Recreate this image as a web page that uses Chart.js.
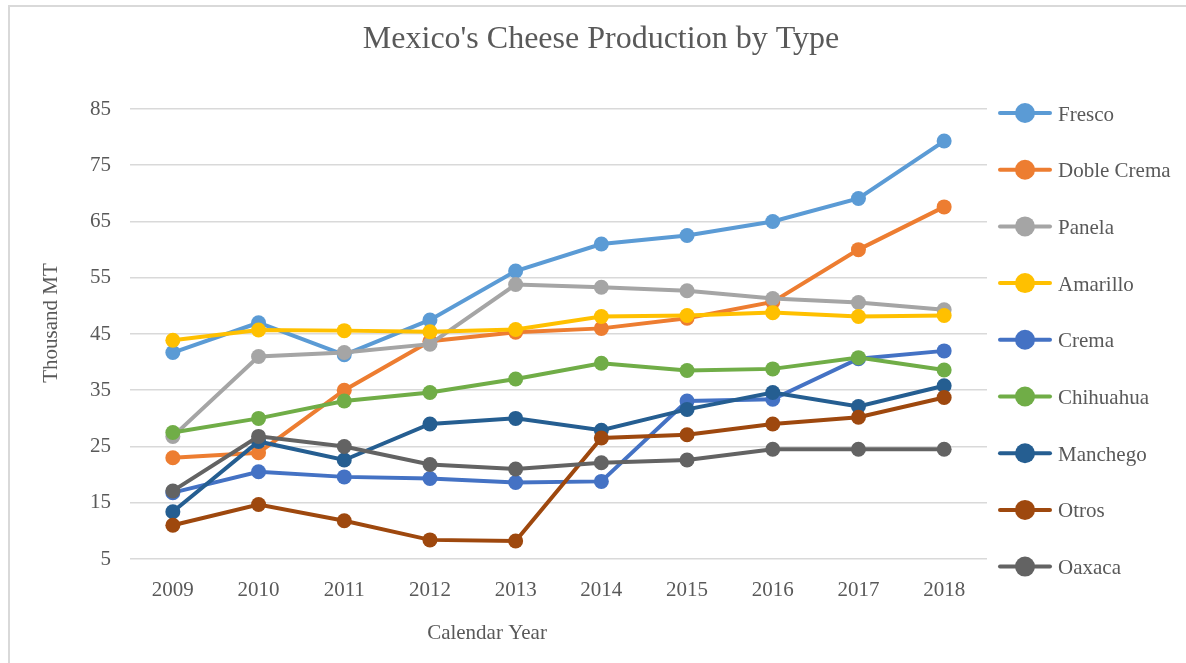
<!DOCTYPE html>
<html>
<head>
<meta charset="utf-8">
<script src="https://cdn.jsdelivr.net/npm/chart.js@4/dist/chart.umd.min.js"></script>
<style>
  html, body { margin: 0; padding: 0; background: #fff; }
  #chart { display: block; }
</style>
</head>
<body>
<canvas id="chart" width="1186" height="663"></canvas>
<script>
// data (thousand MT)
const years = ['2009', '2010', '2011', '2012', '2013', '2014', '2015', '2016', '2017', '2018'];
const seriesNames = ['Fresco', 'Doble Crema', 'Panela', 'Amarillo', 'Crema', 'Chihuahua', 'Manchego', 'Otros', 'Oaxaca'];
const fresco     = [41.7, 47.0, 41.3, 47.5, 56.2, 61.0, 62.5, 65.0, 69.1, 79.3];
const dobleCrema = [23.0, 23.9, 35.0, 43.7, 45.3, 46.0, 47.8, 50.7, 60.0, 67.6];
const panela     = [26.8, 41.0, 41.7, 43.2, 53.8, 53.3, 52.7, 51.3, 50.6, 49.3];
const amarillo   = [43.9, 45.7, 45.6, 45.4, 45.8, 48.1, 48.3, 48.8, 48.1, 48.3];
const crema      = [16.8, 20.5, 19.6, 19.3, 18.6, 18.8, 33.1, 33.4, 40.6, 42.0];
const chihuahua  = [27.5, 30.0, 33.1, 34.6, 37.0, 39.8, 38.5, 38.8, 40.8, 38.6];
const manchego   = [13.4, 25.9, 22.6, 29.0, 30.0, 27.9, 31.6, 34.6, 32.1, 35.8];
const otros      = [11.0, 14.7, 11.8, 8.4, 8.2, 26.5, 27.1, 29.0, 30.2, 33.7];
const oaxaca     = [17.1, 26.8, 25.0, 21.8, 21.0, 22.1, 22.6, 24.5, 24.5, 24.5];
const yTicks = [5, 15, 25, 35, 45, 55, 65, 75, 85];

const seriesValues = [fresco, dobleCrema, panela, amarillo, crema, chihuahua, manchego, otros, oaxaca];
const colors = ['#5B9BD5', '#ED7D31', '#A5A5A5', '#FFC000', '#4472C4', '#70AD47', '#255E91', '#9E480E', '#636363'];

const textColor = '#595959';
const fontFamily = "'Liberation Serif', 'Times New Roman', serif";

// title, axis titles, legend and frame drawn here so they sit where Excel put them
const decorations = {
    id: 'decorations',
    beforeDraw(chart) {
        const ctx = chart.ctx;
        ctx.save();
        ctx.fillStyle = '#fff';
        ctx.fillRect(0, 0, chart.width, chart.height);
        ctx.fillStyle = '#d9d9d9';
        ctx.fillRect(8, 5, 2, chart.height);
        ctx.fillRect(8, 5, chart.width, 2);
        ctx.restore();
    },
    afterDraw(chart) {
        const ctx = chart.ctx;
        ctx.save();
        ctx.fillStyle = textColor;
        ctx.textAlign = 'center';
        ctx.textBaseline = 'alphabetic';

        ctx.font = '32px ' + fontFamily;
        ctx.fillText("Mexico's Cheese Production by Type", 601, 48);

        ctx.font = '21px ' + fontFamily;
        ctx.fillText('Calendar Year', 487, 639);

        ctx.save();
        ctx.translate(57, 323);
        ctx.rotate(-Math.PI / 2);
        ctx.fillText('Thousand MT', 0, 0);
        ctx.restore();

        // legend
        ctx.textAlign = 'left';
        chart.data.datasets.forEach((ds, i) => {
            const cy = 113 + i * 56.7;
            ctx.strokeStyle = ds.borderColor;
            ctx.lineWidth = 4;
            ctx.lineCap = 'round';
            ctx.beginPath();
            ctx.moveTo(1000, cy);
            ctx.lineTo(1050, cy);
            ctx.stroke();
            ctx.fillStyle = ds.borderColor;
            ctx.beginPath();
            ctx.arc(1025, cy, 10, 0, Math.PI * 2);
            ctx.fill();
            ctx.fillStyle = textColor;
            ctx.fillText(ds.label, 1058, cy + 7.5);
        });
        ctx.restore();
    }
};

const datasets = seriesNames.map((name, i) => ({
    label: name,
    data: seriesValues[i],
    borderColor: colors[i],
    backgroundColor: colors[i],
    pointBackgroundColor: colors[i],
    pointBorderWidth: 0,
    pointRadius: 7.5,
    borderWidth: 4,
    tension: 0,
    order: seriesNames.length - i
}));

new Chart(document.getElementById('chart'), {
    type: 'line',
    data: { labels: years, datasets: datasets },
    options: {
        responsive: false,
        animation: false,
        devicePixelRatio: 1,
        layout: { padding: { top: 109, right: 199, bottom: 0, left: 0 } },
        plugins: {
            legend: { display: false },
            title: { display: false },
            tooltip: { enabled: false }
        },
        scales: {
            x: {
                offset: true,
                grid: { display: false, drawTicks: false },
                border: { display: false },
                ticks: {
                    color: textColor,
                    padding: 19,
                    font: { family: fontFamily, size: 21 }
                },
                afterFit(scale) { scale.height = 104; }
            },
            y: {
                min: 5,
                max: 85,
                afterBuildTicks(scale) { scale.ticks = yTicks.map(v => ({ value: v })); },
                grid: { color: '#d9d9d9', lineWidth: 1.6, drawTicks: false },
                border: { display: false },
                ticks: {
                    color: textColor,
                    padding: 19,
                    font: { family: fontFamily, size: 21 }
                },
                afterFit(scale) { scale.width = 130; }
            }
        }
    },
    plugins: [decorations]
});
</script>
</body>
</html>
